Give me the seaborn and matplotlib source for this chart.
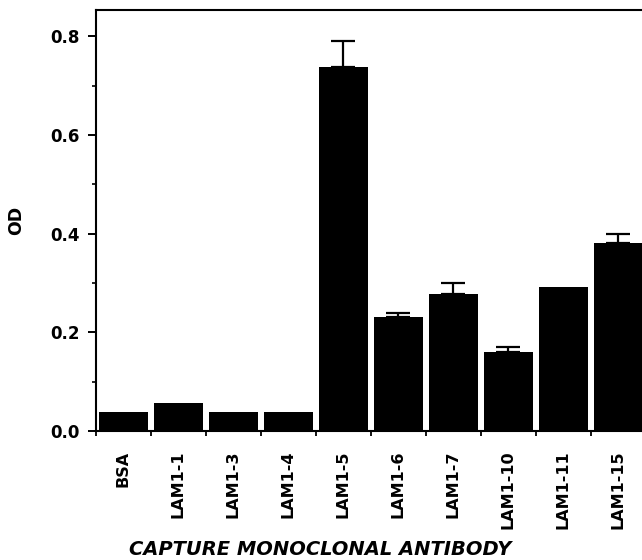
import matplotlib
matplotlib.use("Agg")
import matplotlib.pyplot as plt
import seaborn as sns
import numpy as np
import pandas as pd
from matplotlib.ticker import MultipleLocator, FixedLocator

categories = ["BSA", "LAM1-1", "LAM1-3", "LAM1-4", "LAM1-5", "LAM1-6",
              "LAM1-7", "LAM1-10", "LAM1-11", "LAM1-15"]
od_values = [0.039, 0.056, 0.039, 0.039, 0.738, 0.230, 0.278, 0.161, 0.291, 0.380]
od_errors = [0.0, 0.0, 0.0, 0.0, 0.052, 0.009, 0.021, 0.010, 0.0, 0.019]
y_ticks = [0.0, 0.2, 0.4, 0.6, 0.8]
y_ticklabels = ["0.0", "0.2", "0.4", "0.6", "0.8"]

sns.set_theme(style="ticks")
plt.rcParams["font.family"] = ["DejaVu Sans"]
plt.rcParams["text.color"] = "black"
plt.rcParams["axes.labelcolor"] = "black"
plt.rcParams["xtick.color"] = "black"
plt.rcParams["ytick.color"] = "black"

fig = plt.figure(figsize=(6.42, 5.6), dpi=100)
ax = fig.add_axes([96 / 642, 129 / 560, 549.5 / 642, 421 / 560])

df = pd.DataFrame({"antibody": categories, "od": od_values})
sns.barplot(data=df, x="antibody", y="od", color="black", saturation=1,
            width=0.89, linewidth=0, errorbar=None, ax=ax)

# one-sided (upper) error bars
xs = [i for i, e in enumerate(od_errors) if e > 0]
ys = [od_values[i] for i in xs]
es = [od_errors[i] for i in xs]
ax.errorbar(xs, ys, yerr=[np.zeros(len(es)), es], fmt="none", ecolor="black",
            elinewidth=1.6, capsize=8.3, capthick=1.6)

ax.set_xlim(-0.5, len(categories) - 0.5)
ax.set_ylim(0, 0.853)

ax.set_yticks(y_ticks)
ax.set_yticklabels(y_ticklabels, fontsize=12, fontweight="bold", color="black")
ax.yaxis.set_minor_locator(MultipleLocator(0.1))
ax.tick_params(axis="y", which="major", direction="out", length=6, width=1.4,
               pad=6, colors="black")
ax.tick_params(axis="y", which="minor", direction="out", length=3, width=1.2,
               colors="black")

ax.set_xticks(range(len(categories)))
ax.set_xticklabels(categories, rotation=90, fontsize=11.5, fontweight="bold",
                   va="top", ha="center", color="black")
ax.xaxis.set_minor_locator(FixedLocator([i + 0.5 for i in range(-1, len(categories))]))
ax.tick_params(axis="x", which="major", length=0, pad=14, colors="black")
ax.tick_params(axis="x", which="minor", direction="out", length=3.5, width=1.3,
               colors="black")

for side in ["left", "top", "bottom", "right"]:
    ax.spines[side].set_visible(True)
    ax.spines[side].set_color("black")
    ax.spines[side].set_linewidth(1.5)

ax.set_ylabel("OD", fontsize=12.5, fontweight="bold", color="black")
ax.yaxis.set_label_coords(-0.129, 0.5)
ax.set_xlabel("CAPTURE MONOCLONAL ANTIBODY", fontsize=14, fontweight="bold",
              fontstyle="italic", color="black")
ax.xaxis.set_label_coords(0.4077, -0.258)

fig.savefig("out.png", dpi=100, facecolor="white")
